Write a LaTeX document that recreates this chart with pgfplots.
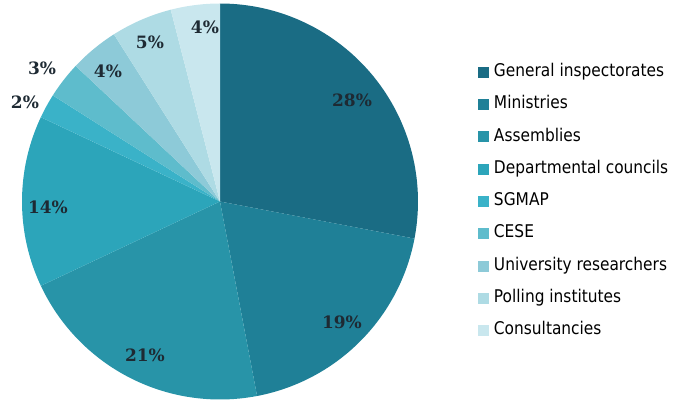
\documentclass[border=0pt]{standalone}
\usepackage{fontspec}
\usepackage{pgfplots}
\pgfplotsset{compat=1.18}
\newfontfamily\legfont[FakeStretch=0.88]{DejaVu Sans}
\newfontfamily\lblfont[BoldFont={DejaVu Serif Bold}]{DejaVu Serif}
\definecolor{c1}{HTML}{1A6C84}
\definecolor{c2}{HTML}{1F8097}
\definecolor{c3}{HTML}{2894A8}
\definecolor{c4}{HTML}{2CA5BA}
\definecolor{c5}{HTML}{3AB2C8}
\definecolor{c6}{HTML}{5EBCCC}
\definecolor{c7}{HTML}{8DCAD8}
\definecolor{c8}{HTML}{AEDBE4}
\definecolor{c9}{HTML}{C9E7EE}
\definecolor{lbl}{HTML}{1E2A33}
\begin{document}
\begin{tikzpicture}
\useasboundingbox (0,0) rectangle (679bp,401bp);
% shares (percent), clockwise from 12 o'clock:
% 28, 19, 21, 14, 2, 3, 4, 5, 4  -> cumulative 0,28,47,68,82,84,87,91,96,100
% angle = 90 - 3.6*cumulative
\begin{axis}[
  at={(22bp,1.5bp)}, anchor=south west,
  width=396bp, height=396bp, scale only axis,
  xmin=-1, xmax=1, ymin=-1, ymax=1,
  hide axis, clip=false,
  legend cell align=left,
  legend image code/.code={\fill[#1] (0bp,-5.5bp) rectangle (11bp,5.5bp);},
  legend style={at={(axis description cs:1.1515,0.846)}, anchor=north west,
    draw=none, fill=none, inner sep=0pt, outer sep=0pt,
    row sep=16.8bp, column sep=5bp,
    font=\legfont\fontsize{17.5bp}{20bp}\selectfont,
    nodes={inner sep=0pt, text height=12bp, text depth=3.5bp}},
]
\addplot[fill=c1, draw=none, domain=-10.8:90, samples=80] ({cos(x)},{sin(x)}) -- (axis cs:0,0) -- cycle;
\addplot[fill=c2, draw=none, domain=-79.2:-10.8, samples=60] ({cos(x)},{sin(x)}) -- (axis cs:0,0) -- cycle;
\addplot[fill=c3, draw=none, domain=-154.8:-79.2, samples=60] ({cos(x)},{sin(x)}) -- (axis cs:0,0) -- cycle;
\addplot[fill=c4, draw=none, domain=-205.2:-154.8, samples=50] ({cos(x)},{sin(x)}) -- (axis cs:0,0) -- cycle;
\addplot[fill=c5, draw=none, domain=-212.4:-205.2, samples=10] ({cos(x)},{sin(x)}) -- (axis cs:0,0) -- cycle;
\addplot[fill=c6, draw=none, domain=-223.2:-212.4, samples=12] ({cos(x)},{sin(x)}) -- (axis cs:0,0) -- cycle;
\addplot[fill=c7, draw=none, domain=-237.6:-223.2, samples=15] ({cos(x)},{sin(x)}) -- (axis cs:0,0) -- cycle;
\addplot[fill=c8, draw=none, domain=-255.6:-237.6, samples=20] ({cos(x)},{sin(x)}) -- (axis cs:0,0) -- cycle;
\addplot[fill=c9, draw=none, domain=-270:-255.6, samples=15] ({cos(x)},{sin(x)}) -- (axis cs:0,0) -- cycle;
\legend{General inspectorates, Ministries, Assemblies, Departmental councils, SGMAP, CESE, University researchers, Polling institutes, Consultancies}
\begin{scope}[every node/.style={text=lbl, font=\lblfont\bfseries\fontsize{17bp}{19bp}\selectfont}]
\node at (axis cs:0.667,0.51) {28\%};
\node at (axis cs:0.616,-0.611) {19\%};
\node at (axis cs:-0.379,-0.778) {21\%};
\node at (axis cs:-0.869,-0.03) {14\%};
\node at (axis cs:-0.985,0.50) {2\%};
\node at (axis cs:-0.899,0.672) {3\%};
\node at (axis cs:-0.566,0.657) {4\%};
\node at (axis cs:-0.354,0.803) {5\%};
\node at (axis cs:-0.076,0.879) {4\%};
\end{scope}
\end{axis}
\end{tikzpicture}
\end{document}
